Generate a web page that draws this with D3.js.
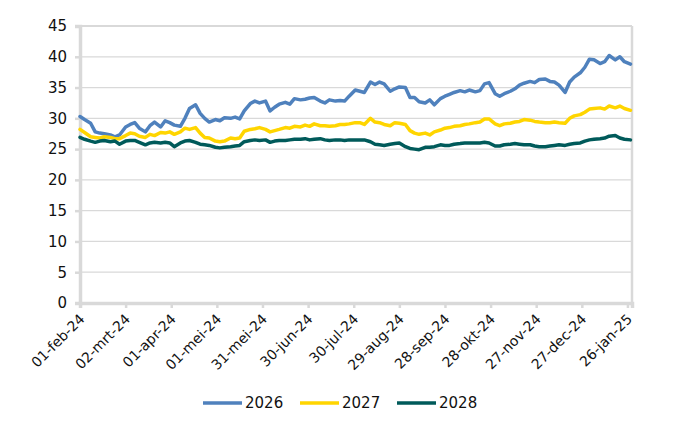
<!DOCTYPE html>
<html>
<head>
<meta charset="utf-8">
<script src="https://cdn.jsdelivr.net/npm/d3@7"></script>
<style>
  html, body { margin: 0; padding: 0; background: #fff; }
  text { font-family: "DejaVu Sans", sans-serif; fill: #111; }
</style>
</head>
<body>
<svg id="chart" width="700" height="430"></svg>
<script>
const dates = [
"2024-02-01","2024-02-04","2024-02-08","2024-02-11","2024-02-14","2024-02-17","2024-02-21","2024-02-24","2024-02-27","2024-03-02",
"2024-03-05","2024-03-08","2024-03-11","2024-03-15","2024-03-18","2024-03-21","2024-03-25","2024-03-28","2024-03-31","2024-04-03",
"2024-04-07","2024-04-10","2024-04-13","2024-04-17","2024-04-20","2024-04-23","2024-04-26","2024-04-30","2024-05-03","2024-05-06",
"2024-05-10","2024-05-13","2024-05-16","2024-05-19","2024-05-23","2024-05-26","2024-05-29","2024-06-02","2024-06-05","2024-06-08",
"2024-06-11","2024-06-15","2024-06-18","2024-06-21","2024-06-25","2024-06-28","2024-07-01","2024-07-04","2024-07-08","2024-07-11",
"2024-07-14","2024-07-18","2024-07-21","2024-07-24","2024-07-27","2024-07-31","2024-08-03","2024-08-06","2024-08-10","2024-08-13",
"2024-08-16","2024-08-19","2024-08-23","2024-08-26","2024-08-29","2024-09-02","2024-09-05","2024-09-08","2024-09-11","2024-09-15",
"2024-09-18","2024-09-21","2024-09-25","2024-09-28","2024-10-01","2024-10-04","2024-10-08","2024-10-11","2024-10-14","2024-10-18",
"2024-10-21","2024-10-24","2024-10-27","2024-10-31","2024-11-03","2024-11-06","2024-11-10","2024-11-13","2024-11-16","2024-11-19",
"2024-11-23","2024-11-26","2024-11-29","2024-12-03","2024-12-06","2024-12-09","2024-12-12","2024-12-16","2024-12-19","2024-12-22",
"2024-12-26","2024-12-29","2025-01-01","2025-01-04","2025-01-08","2025-01-11","2025-01-14","2025-01-18","2025-01-21","2025-01-24",
"2025-01-28"
];

const s2026 = [
30.3,29.8,29.2,27.8,27.6,27.5,27.3,27.0,27.3,28.6,
29.0,29.3,28.4,27.8,28.8,29.4,28.6,29.6,29.3,28.9,
28.7,30.0,31.6,32.2,30.8,30.0,29.4,29.8,29.6,30.1,
30.0,30.2,29.9,31.2,32.4,32.8,32.5,32.8,31.2,31.8,
32.3,32.6,32.3,33.2,33.0,33.1,33.3,33.4,32.8,32.5,
33.0,32.8,32.9,32.8,33.6,34.6,34.4,34.2,35.9,35.5,
35.9,35.6,34.4,34.8,35.1,35.0,33.4,33.4,32.7,32.5,
33.0,32.2,33.2,33.6,33.9,34.2,34.5,34.3,34.6,34.3,
34.5,35.6,35.8,34.0,33.6,34.0,34.4,34.8,35.4,35.7,
36.0,35.8,36.3,36.4,36.0,35.9,35.4,34.2,35.9,36.7,
37.4,38.3,39.6,39.5,38.9,39.2,40.2,39.5,40.0,39.2,
38.8
];

const s2027 = [
28.2,27.7,27.0,26.9,26.8,27.0,26.9,26.7,26.7,27.2,
27.6,27.5,27.1,26.9,27.4,27.2,27.7,27.6,27.8,27.4,
27.8,28.4,28.2,28.5,27.6,26.9,26.8,26.3,26.2,26.3,
26.8,26.7,26.8,27.9,28.2,28.3,28.5,28.2,27.8,28.0,
28.2,28.5,28.4,28.7,28.6,28.9,28.7,29.1,28.8,28.8,
28.7,28.8,29.0,29.0,29.1,29.3,29.3,29.0,30.0,29.4,
29.3,29.0,28.8,29.3,29.2,29.0,28.0,27.6,27.4,27.6,
27.3,27.8,28.1,28.4,28.5,28.7,28.8,29.0,29.1,29.3,
29.4,29.9,29.9,29.1,28.8,29.1,29.2,29.4,29.5,29.8,
29.7,29.5,29.4,29.3,29.3,29.4,29.3,29.2,30.0,30.4,
30.6,31.0,31.5,31.6,31.7,31.5,32.0,31.7,32.0,31.6,
31.3
];

const s2028 = [
26.9,26.6,26.3,26.1,26.3,26.4,26.2,26.3,25.8,26.3,
26.4,26.4,26.1,25.7,26.0,26.1,26.0,26.1,26.0,25.4,
26.0,26.3,26.4,26.1,25.8,25.7,25.6,25.3,25.2,25.3,
25.4,25.5,25.6,26.2,26.4,26.5,26.4,26.5,26.1,26.3,
26.4,26.4,26.5,26.6,26.6,26.7,26.5,26.6,26.7,26.5,
26.4,26.5,26.5,26.4,26.5,26.5,26.5,26.5,26.2,25.8,
25.7,25.6,25.8,25.9,26.0,25.4,25.1,25.0,24.9,25.3,
25.3,25.4,25.7,25.6,25.6,25.8,25.9,26.0,26.0,26.0,
26.0,26.1,26.0,25.5,25.5,25.7,25.8,25.9,25.8,25.7,
25.7,25.5,25.4,25.4,25.5,25.6,25.7,25.6,25.8,25.9,
26.0,26.3,26.5,26.6,26.7,26.8,27.1,27.2,26.8,26.6,
26.5
];

const seriesNames = ["2026", "2027", "2028"];
const seriesColors = ["#4f81bd", "#ffd500", "#005a5a"];
const seriesValues = [s2026, s2027, s2028];

const tickDates = ["2024-02-01","2024-03-02","2024-04-01","2024-05-01","2024-05-31","2024-06-30",
  "2024-07-30","2024-08-29","2024-09-28","2024-10-28","2024-11-27","2024-12-27","2025-01-26"];
const tickLabels = ["01-feb-24","02-mrt-24","01-apr-24","01-mei-24","31-mei-24","30-jun-24",
  "30-jul-24","29-aug-24","28-sep-24","28-okt-24","27-nov-24","27-dec-24","26-jan-25"];
const yTicks = [0,5,10,15,20,25,30,35,40,45];
const xDomain = ["2024-02-01", "2025-01-29"];

const parse = d3.utcParse("%Y-%m-%d");
const svg = d3.select("#chart");
const L = 80, R = 632, T = 26, B = 303;

const x = d3.scaleUtc().domain(xDomain.map(parse)).range([L, R]);
const y = d3.scaleLinear().domain([0, 45]).range([B, T]);
const grey = "#d9d9d9";

// gridlines
svg.append("g").selectAll("line").data(yTicks.filter(v => v > 0)).join("line")
  .attr("x1", L).attr("x2", R).attr("y1", d => y(d)).attr("y2", d => y(d))
  .attr("stroke", grey).attr("stroke-width", 1.2);

// plot border top/right
svg.append("line").attr("x1", L).attr("x2", R).attr("y1", T).attr("y2", T)
  .attr("stroke", grey).attr("stroke-width", 2);
svg.append("line").attr("x1", R).attr("x2", R).attr("y1", T).attr("y2", B)
  .attr("stroke", grey).attr("stroke-width", 2.5);

// y axis
const yAxis = svg.append("g").attr("transform", `translate(${L},0)`)
  .call(d3.axisLeft(y).tickValues(yTicks).tickSize(5).tickPadding(8));
yAxis.select(".domain").attr("stroke", grey).attr("stroke-width", 3.5);
yAxis.selectAll(".tick line").attr("stroke", grey).attr("stroke-width", 2.5);
yAxis.selectAll(".tick text").attr("font-size", 15).attr("font-family", "DejaVu Sans").attr("fill", "#111");

// x axis
const xAxis = svg.append("g").attr("transform", `translate(0,${B})`)
  .call(d3.axisBottom(x).tickValues(tickDates.map(parse)).tickSize(5)
    .tickFormat((d, i) => tickLabels[i]));
xAxis.select(".domain").attr("stroke", grey).attr("stroke-width", 3.5);
xAxis.selectAll(".tick line").attr("stroke", grey).attr("stroke-width", 2.5);
xAxis.selectAll(".tick text")
  .attr("font-size", 14).attr("font-family", "DejaVu Sans").attr("fill", "#111")
  .attr("text-anchor", "end").attr("dy", 0).attr("y", 0)
  .attr("transform", "translate(5,17) rotate(-45)");

// lines
const line = d3.line()
  .x((d, i) => x(parse(dates[i])))
  .y(d => y(d));

seriesValues.forEach((vals, k) => {
  svg.append("path").datum(vals)
    .attr("fill", "none")
    .attr("stroke", seriesColors[k])
    .attr("stroke-width", 3.5)
    .attr("stroke-linejoin", "round")
    .attr("stroke-linecap", "round")
    .attr("d", line);
});

// legend
const legendX = [203, 300, 397];
const lg = svg.append("g");
seriesNames.forEach((name, k) => {
  lg.append("line").attr("x1", legendX[k]).attr("x2", legendX[k] + 39)
    .attr("y1", 403).attr("y2", 403)
    .attr("stroke", seriesColors[k]).attr("stroke-width", 3.5);
  lg.append("text").attr("x", legendX[k] + 42).attr("y", 408)
    .attr("font-size", 15).text(name);
});
</script>
</body>
</html>
